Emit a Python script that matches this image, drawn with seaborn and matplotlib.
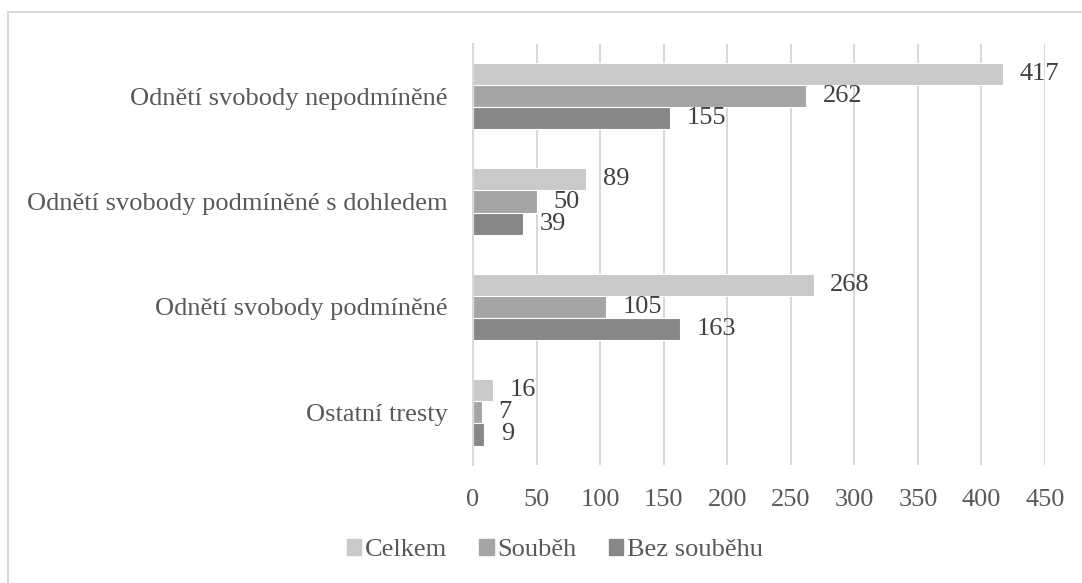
import pandas as pd
import matplotlib.pyplot as plt
import seaborn as sns
from matplotlib.patches import Rectangle

# data
tresty = ['Odnětí svobody nepodmíněné', 'Odnětí svobody podmíněné s dohledem',
          'Odnětí svobody podmíněné', 'Ostatní tresty']
celkem = [417, 89, 268, 16]
soubeh = [262, 50, 105, 7]
bez_soubehu = [155, 39, 163, 9]
skupiny = ['Celkem', 'Souběh', 'Bez souběhu']
barvy = ['#c9c9c9', '#a5a5a5', '#878787']

df = pd.DataFrame({
    'trest': tresty * 3,
    'skupina': [s for s in skupiny for _ in tresty],
    'pocet': celkem + soubeh + bez_soubehu,
})

sns.set_theme(style='white')
plt.rcParams['font.family'] = ['Liberation Serif', 'DejaVu Serif']
axis_color = '#595959'
label_color = '#404040'

fig = plt.figure(figsize=(10.82, 5.83), dpi=100)
ax = fig.add_axes([473 / 1082, 1 - 465 / 583, (1045 - 473) / 1082, (465 - 43.5) / 583])

sns.barplot(data=df, x='pocet', y='trest', hue='skupina', hue_order=skupiny,
            palette=barvy, orient='h', width=0.63, ax=ax,
            edgecolor='white', linewidth=0.8, saturation=1, legend=True)

for cont in ax.containers:
    ax.bar_label(cont, padding=12, fontsize=19, color=label_color)

ax.set_xlim(0, 450)
ax.set_xticks(range(0, 451, 50))
ax.set_xlabel('')
ax.set_ylabel('')
ax.grid(axis='x', color='#d9d9d9', linewidth=1.5)
ax.set_axisbelow(True)
for side in ['top', 'right', 'bottom']:
    ax.spines[side].set_visible(False)
ax.spines['left'].set_color('#d9d9d9')
ax.spines['left'].set_linewidth(1.5)
ax.tick_params(axis='both', length=0, labelsize=19, labelcolor=axis_color)
ax.tick_params(axis='y', pad=18)
ax.tick_params(axis='x', pad=17)

ax.legend_.remove()
handles = [plt.Rectangle((0, 0), 1, 1, color=c) for c in barvy]
fig.legend(handles, skupiny, loc='center', bbox_to_anchor=(555 / 1082, 1 - 550 / 583),
           ncol=3, frameon=False, fontsize=19, handlelength=0.55, handleheight=0.55,
           handletextpad=0.15, columnspacing=1.2, labelcolor=axis_color)

# chart border (only top and left edges are visible in the reference)
fig.patches.append(Rectangle((8 / 1082, -0.1), 1.2, 1 - 12 / 583 + 0.1,
                             transform=fig.transFigure, fill=False,
                             edgecolor='#d9d9d9', linewidth=1.5))

fig.savefig('out.png', dpi=100)
